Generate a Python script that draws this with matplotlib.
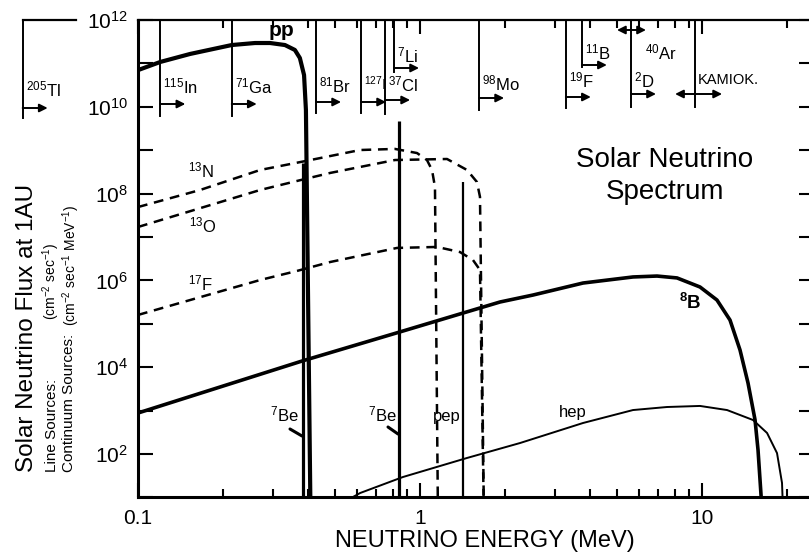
import numpy as np
import matplotlib
matplotlib.use("Agg")
import matplotlib.pyplot as plt
from matplotlib.ticker import FixedLocator, LogLocator, NullFormatter, FuncFormatter

plt.rcParams['font.family'] = ['Liberation Sans', 'DejaVu Sans']
plt.rcParams['mathtext.fontset'] = 'custom'
plt.rcParams['mathtext.rm'] = 'Liberation Sans'
plt.rcParams['mathtext.it'] = 'Liberation Sans:italic'
plt.rcParams['mathtext.bf'] = 'Liberation Sans:bold'

# continuum sources: energy (MeV) and flux
pp_E = [0.100, 0.120, 0.153, 0.215, 0.260, 0.294, 0.332, 0.360, 0.375, 0.388, 0.394, 0.410]
pp_F = [7.0e10, 1.08e11, 1.65e11, 2.65e11, 2.95e11, 2.95e11, 2.65e11, 2.04e11, 1.33e11, 5.4e10, 8.4e9, 1.0]

n13_E = [0.100, 0.166, 0.271, 0.391, 0.613, 0.815, 0.976, 1.059, 1.103, 1.130, 1.160]
n13_F = [4.9e7, 1.21e8, 3.5e8, 5.6e8, 1.01e9, 1.07e9, 8.6e8, 5.9e8, 3.5e8, 1.42e8, 1.0]

o15_E = [0.100, 0.271, 0.391, 0.480, 0.815, 1.247, 1.468, 1.592, 1.632, 1.690]
o15_F = [1.70e7, 1.21e8, 2.17e8, 2.99e8, 5.94e8, 6.27e8, 3.50e8, 1.85e8, 8.4e7, 1.0]

f17_E = [0.100, 0.271, 0.366, 0.480, 0.829, 1.149, 1.386, 1.541, 1.632, 1.690]
f17_F = [1.60e5, 1.02e6, 1.65e6, 2.65e6, 5.6e6, 5.9e6, 4.5e6, 2.95e6, 1.74e6, 1.0]

b8_E = [0.100, 0.382, 0.849, 1.421, 1.922, 2.516, 3.785, 5.692, 6.926, 8.155, 9.838,
        11.30, 12.57, 13.64, 14.56, 15.42, 15.80, 16.33]
b8_F = [8.8e2, 1.39e4, 6.5e4, 1.77e5, 3.18e5, 4.6e5, 8.7e5, 1.20e6, 1.26e6, 1.14e6, 7.05e5,
        3.53e5, 1.22e5, 2.49e4, 4.33e3, 6.1e2, 1.24e2, 5.0]

hep_E = [0.55, 0.613, 0.870, 1.468, 2.263, 3.785, 5.692, 7.515, 9.838, 12.27, 15.17, 17.01, 18.45, 19.22, 19.38]
hep_F = [8.5, 12.6, 29.5, 81, 179, 518, 1.03e3, 1.21e3, 1.28e3, 1.03e3, 607, 305, 105, 21.5, 5.0]

# line sources (7Be, 7Be, pep)
line_E = [0.384, 0.84, 1.42]
line_F = [5.0e8, 4.7e9, 1.85e8]

# detector thresholds (MeV)
thr_labels = ['$^{205}$Tl', '$^{115}$In', '$^{71}$Ga', '$^{81}$Br', '$^{127}$I', '$^{37}$Cl',
              '$^{7}$Li', '$^{98}$Mo', '$^{19}$F', '$^{11}$B', '$^{2}$D', 'KAMIOK.']
thr_E = [0.039, 0.120, 0.215, 0.428, 0.618, 0.752, 0.809, 1.62, 3.29, 3.75, 5.60, 9.45]

# pixel layout of threshold markers: line end, arrow, label, label size
thr_bottom = [118, 116, 116, 113, 113, 114, 72, 110, 108, 67, 107, 107]
thr_arrow = [108, 104, 104, 102, 102, 100, 68, 98, 97, 65, 94, 94]
thr_label = [89, 86, 86, 85, 84, 84, 55, 83, 80, 52, 80, 80]
thr_size = [12, 12, 12, 12, 10.5, 12, 12, 12, 12, 12, 12, 10.5]

W, H = 809, 555
fig = plt.figure(figsize=(W / 100, H / 100), dpi=100)
top_px, bot_px, left_px, dec_px = 20, 497.4, 138, 282
ax = fig.add_axes([left_px / W, (H - bot_px) / H, dec_px * np.log10(250) / W, (bot_px - top_px) / H])


def fxy(x, y):
    return (x / W, 1 - y / H)


def ay(py):
    return (bot_px - py) / (bot_px - top_px)


ax.set_xscale('log')
ax.set_yscale('log')
ax.set_xlim(0.1, 25)
ax.set_ylim(10, 1e12)

ax.plot(pp_E, pp_F, color='black', lw=3.0, solid_joinstyle='round')
ax.plot(b8_E, b8_F, color='black', lw=2.6, solid_joinstyle='round')
ax.plot(hep_E, hep_F, color='black', lw=1.4)
for e, f in [(n13_E, n13_F), (o15_E, o15_F), (f17_E, f17_F)]:
    ax.plot(e, f, color='black', lw=1.8, dashes=(3.9, 2.7))
ax.vlines(line_E, 1, line_F, colors='black', linewidths=[2.3, 2.3, 1.6])

# axes styling
for s in ['left', 'bottom']:
    ax.spines[s].set_linewidth(2.2)
for s in ['top', 'right']:
    ax.spines[s].set_linewidth(1.6)
ax.xaxis.set_major_locator(FixedLocator([0.1, 1, 10]))
ax.xaxis.set_major_formatter(FuncFormatter(lambda v, p: {0.1: '0.1', 1: '1', 10: '10'}.get(round(v, 3), '')))
ax.xaxis.set_minor_locator(LogLocator(base=10, subs=np.arange(2, 10)))
ax.xaxis.set_minor_formatter(NullFormatter())
ax.yaxis.set_major_locator(LogLocator(base=10, numticks=20))
ax.yaxis.set_minor_locator(FixedLocator([]))


def yfmt(v, p):
    k = int(round(np.log10(v)))
    return '$10^{%d}$' % k if k % 2 == 0 else ''


ax.yaxis.set_major_formatter(FuncFormatter(yfmt))
ax.tick_params(which='both', direction='in', top=True, right=True, width=1.5, labelsize=15)
ax.tick_params(axis='x', which='major', length=10, pad=8)
ax.tick_params(axis='x', which='minor', length=5.5)
ax.tick_params(axis='y', which='major', length=11, pad=7)

# threshold markers
xt = ax.get_xaxis_transform()
ax.plot([0.039, 0.1 * 10 ** (-62 / dec_px)], [1, 1], transform=xt, clip_on=False, color='black', lw=1.6)
for lab, e, b, a, l, fs in zip(thr_labels, thr_E, thr_bottom, thr_arrow, thr_label, thr_size):
    ax.plot([e, e], [1, ay(b)], transform=xt, clip_on=False, color='black', lw=1.4)
    if lab == 'KAMIOK.':
        ax.annotate('', xy=(e * 10 ** (27 / dec_px), ay(a)), xytext=(e * 10 ** (-20 / dec_px), ay(a)),
                    xycoords=xt, textcoords=xt, annotation_clip=False,
                    arrowprops=dict(arrowstyle='<|-|>', lw=1.4, color='black', mutation_scale=12,
                                    shrinkA=0, shrinkB=0))
    else:
        ax.annotate('', xy=(e * 10 ** (25 / dec_px), ay(a)), xytext=(e, ay(a)),
                    xycoords=xt, textcoords=xt, annotation_clip=False,
                    arrowprops=dict(arrowstyle='-|>', lw=1.4, color='black', mutation_scale=12,
                                    shrinkA=0, shrinkB=0))
    ax.text(e * 10 ** (3 / dec_px), ay(l), lab, transform=xt, fontsize=fs, ha='left', va='center',
            clip_on=False)

# 40Ar range around the 2D line
e2d = thr_E[10]
ax.annotate('', xy=(e2d * 10 ** (15 / dec_px), ay(30)), xytext=(e2d * 10 ** (-14 / dec_px), ay(30)),
            xycoords=xt, textcoords=xt, annotation_clip=False,
            arrowprops=dict(arrowstyle='<|-|>', lw=1.4, color='black', mutation_scale=12, shrinkA=0, shrinkB=0))
ax.text(e2d * 10 ** (14 / dec_px), ay(52), '$^{40}$Ar', transform=xt, fontsize=12, ha='left', va='center')

# curve labels
fig.text(*fxy(281, 30), 'pp', fontsize=15, fontweight='bold', ha='center', va='center')
fig.text(*fxy(201, 170), '$^{13}$N', fontsize=12, ha='center', va='center')
fig.text(*fxy(203, 225), '$^{13}$O', fontsize=12, ha='center', va='center')
fig.text(*fxy(201, 283), '$^{17}$F', fontsize=12, ha='center', va='center')
fig.text(*fxy(690, 303), r'$^{\mathbf{8}}$B', fontsize=13.5, fontweight='bold', ha='center', va='center')
fig.text(*fxy(284, 414), '$^{7}$Be', fontsize=12, ha='center', va='center')
fig.text(*fxy(382, 414), '$^{7}$Be', fontsize=12, ha='center', va='center')
fig.text(*fxy(447, 416), 'pep', fontsize=12, ha='center', va='center')
fig.text(*fxy(573, 413), 'hep', fontsize=12, ha='center', va='center')
for (x1, y1, x2, y2) in [(290, 429, 302, 436), (388, 427, 398, 434)]:
    fig.add_artist(plt.Line2D([x1 / W, x2 / W], [1 - y1 / H, 1 - y2 / H], transform=fig.transFigure,
                              color='black', lw=2.2, solid_capstyle='round'))

fig.text(*fxy(665, 176), 'Solar Neutrino\nSpectrum', fontsize=20, ha='center', va='center', linespacing=1.3)

# axis labels
fig.text(*fxy(485, 541), 'NEUTRINO ENERGY (MeV)', fontsize=17, ha='center', va='center')
fig.text(*fxy(27, 472), 'Solar Neutrino Flux at 1AU', fontsize=17.5, rotation=90, ha='center', va='bottom')
fig.text(*fxy(52, 472), 'Line Sources:', fontsize=11, rotation=90, ha='center', va='bottom')
fig.text(*fxy(51, 320), '(cm$^{-2}$ sec$^{-1}$)', fontsize=10, rotation=90, ha='center', va='bottom')
fig.text(*fxy(69, 472), 'Continuum Sources:', fontsize=11, rotation=90, ha='center', va='bottom')
fig.text(*fxy(71, 326), '(cm$^{-2}$ sec$^{-1}$ MeV$^{-1}$)', fontsize=10, rotation=90, ha='center', va='bottom')

fig.savefig('out.png', dpi=100)
